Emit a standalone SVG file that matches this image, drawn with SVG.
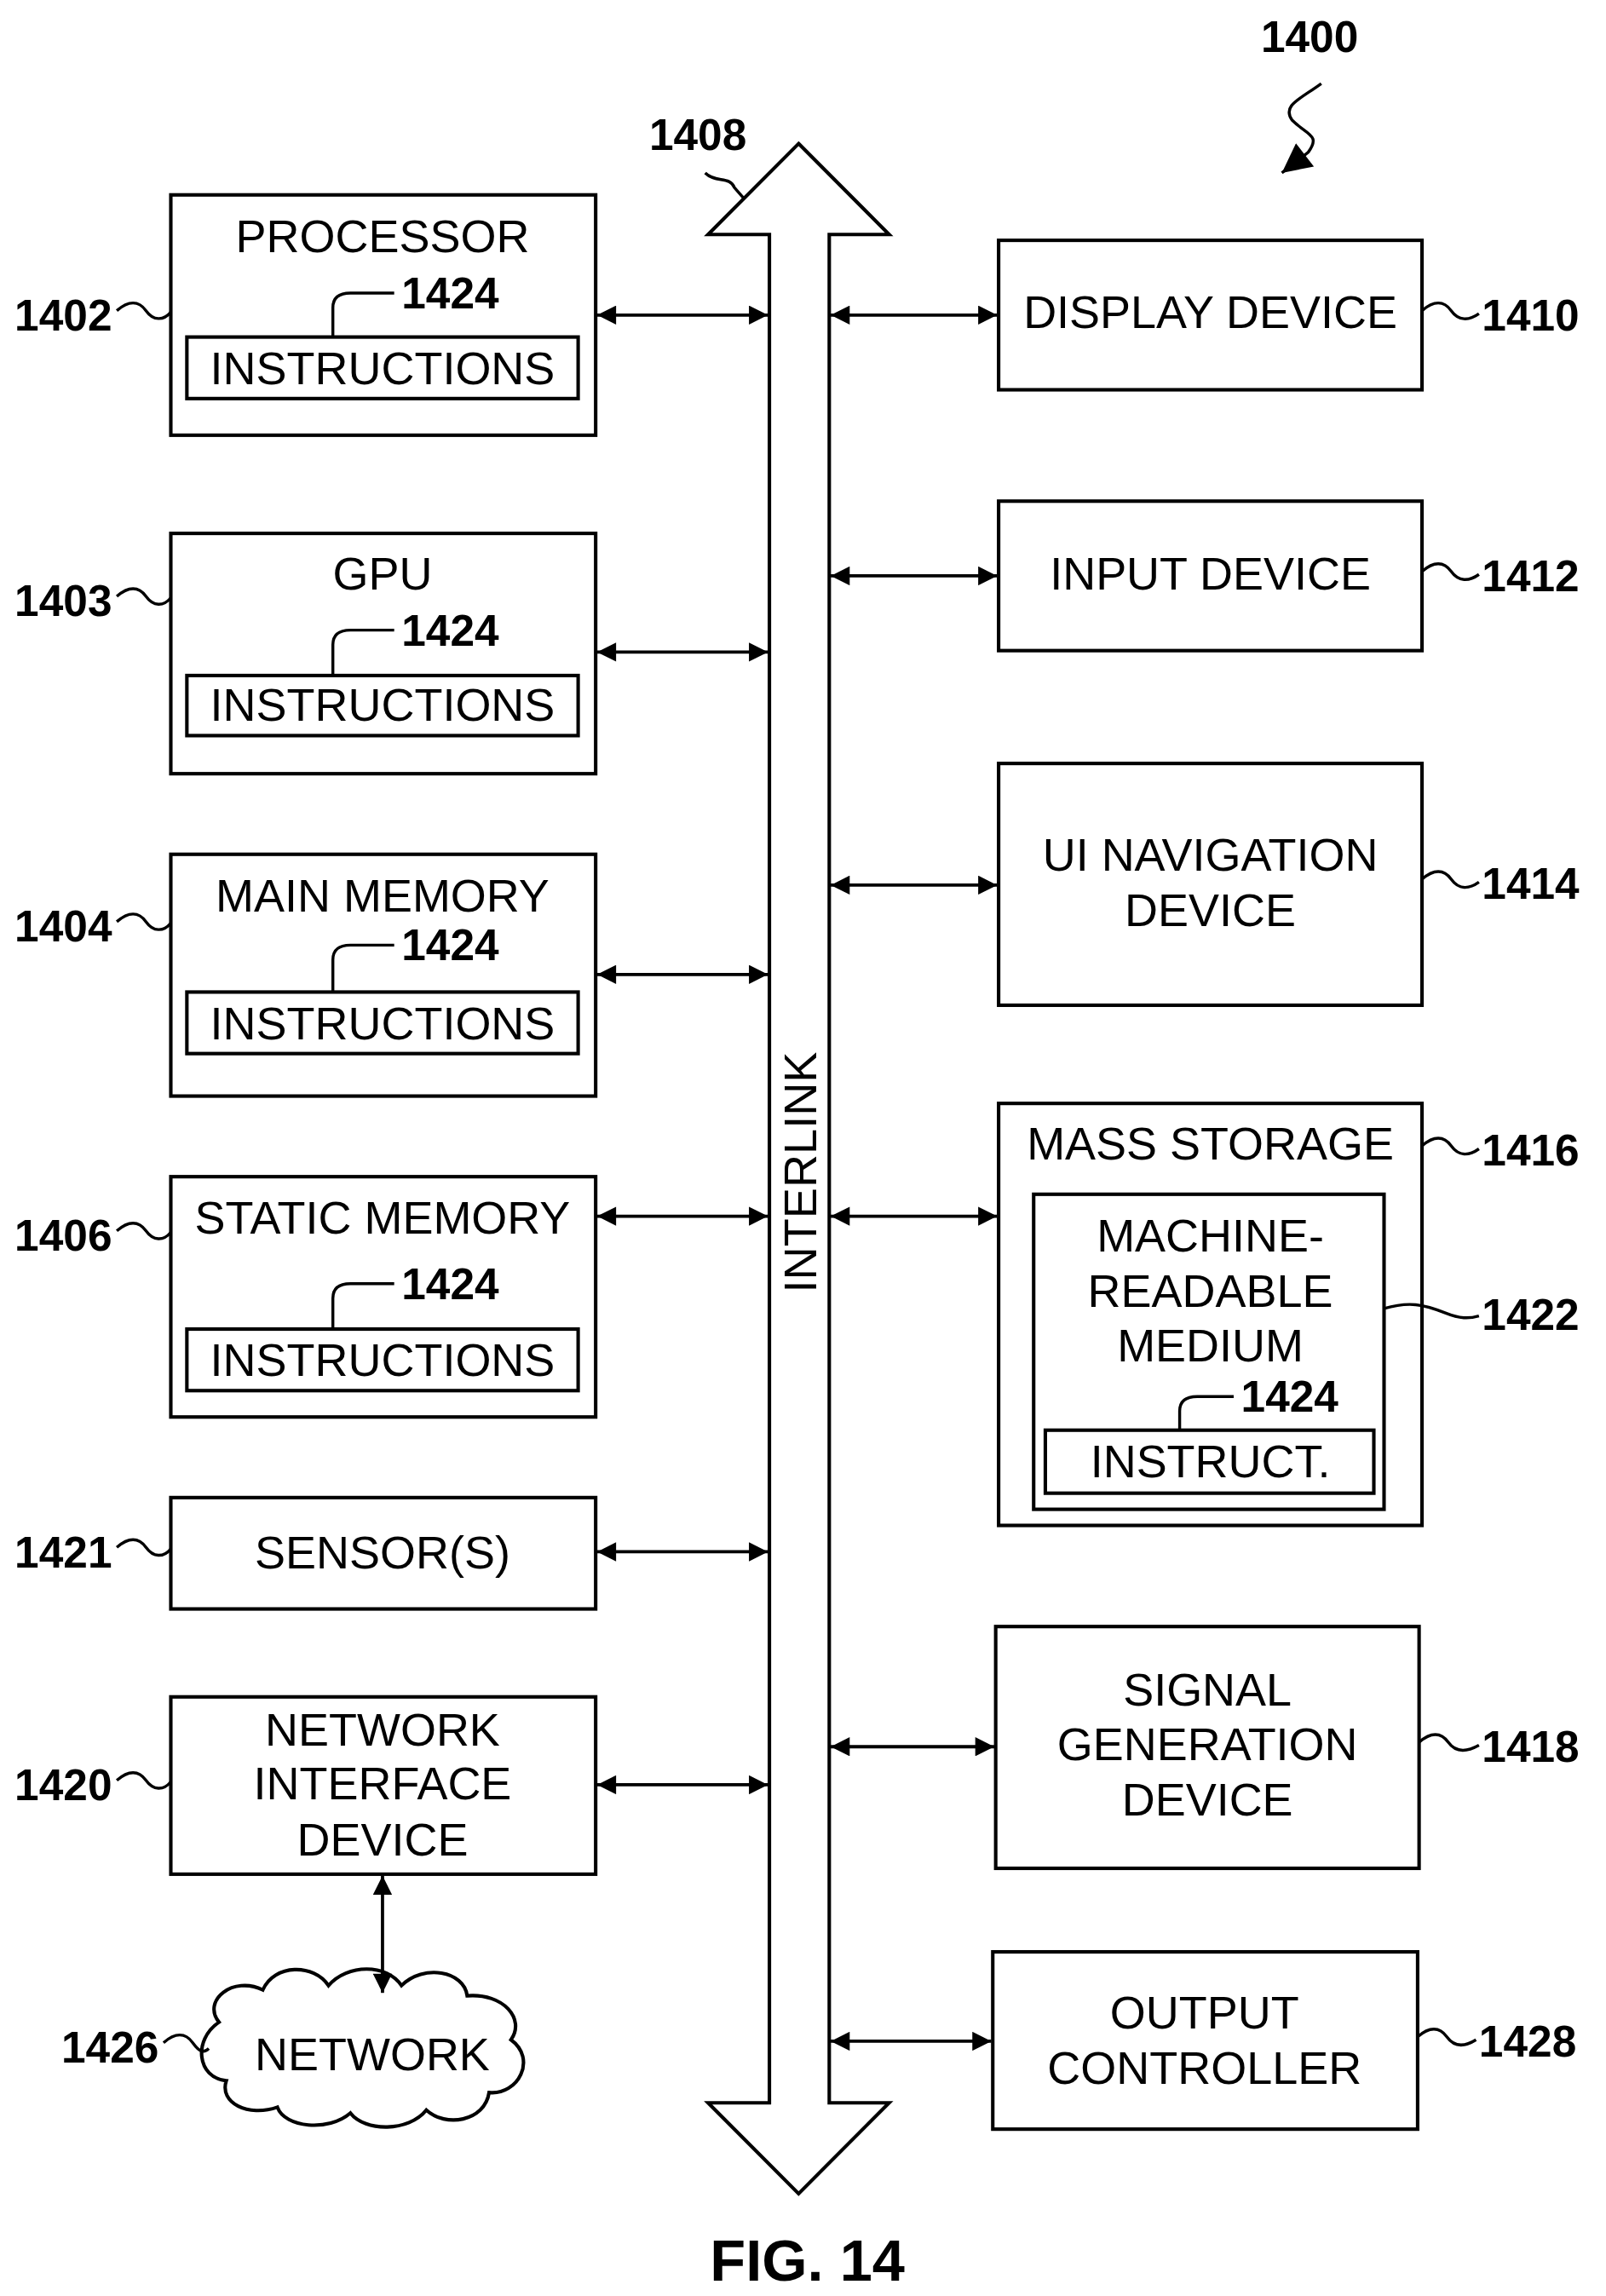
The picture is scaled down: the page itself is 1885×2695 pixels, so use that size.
<svg xmlns="http://www.w3.org/2000/svg" width="1885" height="2695" viewBox="0 0 1885 2695">
<style>
.b{fill:none;stroke:#000;stroke-width:2.4}
.t{font-family:"Liberation Sans",Arial,sans-serif;font-size:31.5px;text-anchor:middle;dominant-baseline:central}
.n{font-family:"Liberation Sans",Arial,sans-serif;font-size:30px;font-weight:bold;dominant-baseline:central}
.l{fill:none;stroke:#000;stroke-width:2}
.c{fill:none;stroke:#000;stroke-width:2.2;marker-start:url(#ah);marker-end:url(#ah)}
</style>
<defs>
<marker id="ah" viewBox="0 0 10 10" refX="10" refY="5" markerWidth="14" markerHeight="13" markerUnits="userSpaceOnUse" orient="auto-start-reverse"><path d="M0,0 L10,5 L0,10 z" fill="#000"/></marker>
<marker id="ah2" viewBox="0 0 10 10" refX="10" refY="5" markerWidth="24" markerHeight="20" markerUnits="userSpaceOnUse" orient="auto"><path d="M0,0 L10,5 L0,10 z" fill="#000"/></marker>
</defs>
<rect width="1885" height="2695" fill="#fff"/>
<g transform="scale(1.7136,1.72)">
<g id="ref1400"><text class="n" x="897" y="25" text-anchor="middle">1400</text>
<path class="l" d="M905,57 C890,68 878,72 885,82 C895,92 905,92 896,104 L878,118" marker-end="url(#ah2)"/></g>
<g id="bus">
<path class="b" d="M547,98 L609,160 L568,160 L568,1435 L609,1435 L547,1497 L485,1435 L527,1435 L527,160 L485,160 Z"/>
<text class="t" transform="translate(548,800) rotate(-90)" x="0" y="0">INTERLINK</text>
<text class="n" x="478" y="92" text-anchor="middle">1408</text>
<path class="l" d="M483,118 C490,125 500,120 503,128 L510,136"/>
</g>
<g id="n1402"><rect class="b" x="117" y="133" width="291" height="164"/><text class="t" x="262" y="161">PROCESSOR</text>
<rect class="b" x="128" y="230" width="268" height="42"/><text class="t" x="262" y="251">INSTRUCTIONS</text>
<path class="l" d="M228,230 L228,210 Q228,200 240,200 L270,200"/><text class="n" x="275" y="200">1424</text>
<text class="n" x="10" y="215">1402</text><path class="l" d="M80,212 C88,205 95,205 100,212 C105,219 112,219 117,213"/></g>
<g id="n1403"><rect class="b" x="117" y="364" width="291" height="164"/><text class="t" x="262" y="391">GPU</text>
<rect class="b" x="128" y="461" width="268" height="41"/><text class="t" x="262" y="481">INSTRUCTIONS</text>
<path class="l" d="M228,461 L228,440 Q228,430 240,430 L270,430"/><text class="n" x="275" y="430">1424</text>
<text class="n" x="10" y="410">1403</text><path class="l" d="M80,407 C88,400 95,400 100,407 C105,414 112,414 117,408"/></g>
<g id="n1404"><rect class="b" x="117" y="583" width="291" height="165"/><text class="t" x="262" y="611">MAIN MEMORY</text>
<rect class="b" x="128" y="677" width="268" height="42"/><text class="t" x="262" y="698">INSTRUCTIONS</text>
<path class="l" d="M228,677 L228,655 Q228,645 240,645 L270,645"/><text class="n" x="275" y="645">1424</text>
<text class="n" x="10" y="632">1404</text><path class="l" d="M80,629 C88,622 95,622 100,629 C105,636 112,636 117,630"/></g>
<g id="n1406"><rect class="b" x="117" y="803" width="291" height="164"/><text class="t" x="262" y="831">STATIC MEMORY</text>
<rect class="b" x="128" y="907" width="268" height="42"/><text class="t" x="262" y="928">INSTRUCTIONS</text>
<path class="l" d="M228,907 L228,886 Q228,876 240,876 L270,876"/><text class="n" x="275" y="876">1424</text>
<text class="n" x="10" y="843">1406</text><path class="l" d="M80,840 C88,833 95,833 100,840 C105,847 112,847 117,841"/></g>
<g id="n1421"><rect class="b" x="117" y="1022" width="291" height="76"/><text class="t" x="262" y="1059">SENSOR(S)</text>
<text class="n" x="10" y="1059">1421</text><path class="l" d="M80,1056 C88,1049 95,1049 100,1056 C105,1063 112,1063 117,1057"/></g>
<g id="n1420"><rect class="b" x="117" y="1158" width="291" height="121"/><text class="t" x="262" y="1180">NETWORK</text><text class="t" x="262" y="1217">INTERFACE</text><text class="t" x="262" y="1255">DEVICE</text>
<text class="n" x="10" y="1218">1420</text><path class="l" d="M80,1215 C88,1208 95,1208 100,1215 C105,1222 112,1222 117,1216"/></g>
<g id="n1426"><path class="b" d="M150,1380 C138,1365 160,1348 180,1358 C188,1340 215,1340 225,1355 C238,1340 265,1340 275,1355 C290,1340 318,1345 320,1362 C345,1360 360,1378 350,1392 C368,1405 355,1430 335,1428 C332,1448 305,1452 292,1440 C280,1455 250,1455 240,1442 C225,1455 195,1452 190,1438 C170,1445 150,1435 155,1420 C135,1418 132,1392 150,1380 Z"/>
<text class="t" x="255" y="1402">NETWORK</text>
<text class="n" x="42" y="1397">1426</text><path class="l" d="M112,1394 C120,1387 127,1387 132,1394 C137,1401 140,1401 143,1398"/></g>
<g id="n1410"><rect class="b" x="684" y="164" width="290" height="102"/><text class="t" x="829" y="213">DISPLAY DEVICE</text>
<text class="n" x="1015" y="215">1410</text><path class="l" d="M974,212 C982,205 989,205 994,212 C999,219 1006,219 1013,214"/></g>
<g id="n1412"><rect class="b" x="684" y="342" width="290" height="102"/><text class="t" x="829" y="391">INPUT DEVICE</text>
<text class="n" x="1015" y="393">1412</text><path class="l" d="M974,390 C982,383 989,383 994,390 C999,397 1006,397 1013,392"/></g>
<g id="n1414"><rect class="b" x="684" y="521" width="290" height="165"/><text class="t" x="829" y="583">UI NAVIGATION</text><text class="t" x="829" y="621">DEVICE</text>
<text class="n" x="1015" y="603">1414</text><path class="l" d="M974,600 C982,593 989,593 994,600 C999,607 1006,607 1013,602"/></g>
<g id="n1416"><rect class="b" x="684" y="753" width="290" height="288"/><text class="t" x="829" y="780">MASS STORAGE</text>
<text class="n" x="1015" y="785">1416</text><path class="l" d="M974,782 C982,775 989,775 994,782 C999,789 1006,789 1013,784"/>
<g id="n1422"><rect class="b" x="708" y="815" width="240" height="215"/><text class="t" x="829" y="843">MACHINE-</text><text class="t" x="829" y="881">READABLE</text><text class="t" x="829" y="918">MEDIUM</text>
<rect class="b" x="716" y="976" width="225" height="43"/><text class="t" x="829" y="997">INSTRUCT.</text>
<path class="l" d="M808,976 L808,963 Q808,953 820,953 L845,953"/><text class="n" x="850" y="953">1424</text>
<text class="n" x="1015" y="897">1422</text><path class="l" d="M948,893 C965,888 975,890 990,896 C1000,900 1006,900 1013,898"/></g></g>
<g id="n1418"><rect class="b" x="682" y="1110" width="290" height="165"/><text class="t" x="827" y="1153">SIGNAL</text><text class="t" x="827" y="1190">GENERATION</text><text class="t" x="827" y="1228">DEVICE</text>
<text class="n" x="1015" y="1192">1418</text><path class="l" d="M972,1189 C980,1182 987,1182 992,1189 C997,1196 1004,1196 1013,1191"/></g>
<g id="n1428"><rect class="b" x="680" y="1332" width="291" height="121"/><text class="t" x="825" y="1373">OUTPUT</text><text class="t" x="825" y="1411">CONTROLLER</text>
<text class="n" x="1013" y="1393">1428</text><path class="l" d="M971,1390 C979,1383 986,1383 991,1390 C996,1397 1003,1397 1011,1392"/></g>
<g id="connectors">
<path class="c" d="M409,215 L526,215"/>
<path class="c" d="M409,445 L526,445"/>
<path class="c" d="M409,665 L526,665"/>
<path class="c" d="M409,830 L526,830"/>
<path class="c" d="M409,1059 L526,1059"/>
<path class="c" d="M409,1218 L526,1218"/>
<path class="c" d="M262,1280 L262,1360"/>
<path class="c" d="M569,215 L683,215"/>
<path class="c" d="M569,393 L683,393"/>
<path class="c" d="M569,604 L683,604"/>
<path class="c" d="M569,830 L683,830"/>
<path class="c" d="M569,1192 L681,1192"/>
<path class="c" d="M569,1393 L679,1393"/>
</g>
<text class="n" x="553" y="1543" text-anchor="middle" style="font-size:40px">FIG. 14</text>
</g>
</svg>
